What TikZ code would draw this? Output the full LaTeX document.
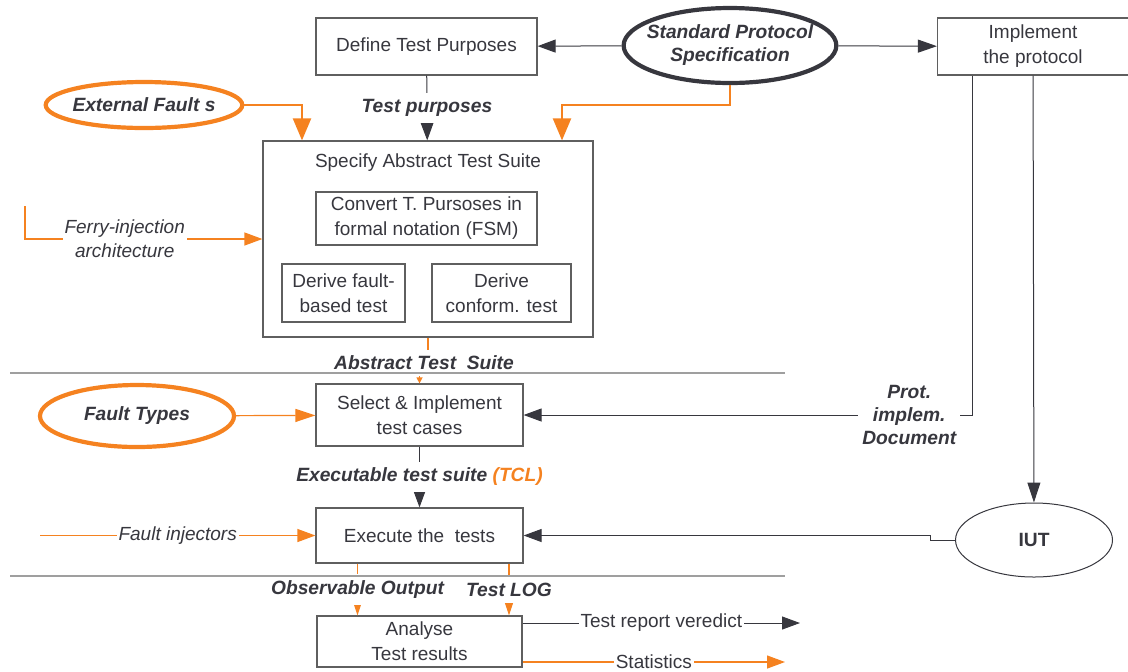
\documentclass[tikz,border=0pt]{standalone}
\usepackage{fontspec}
\setmainfont{Liberation Sans}
\usepackage{tikz}
\usetikzlibrary{positioning,shapes,arrows.meta}
\definecolor{testorange}{RGB}{245,130,32}
\definecolor{testdark}{RGB}{55,55,62}
\definecolor{testgray}{RGB}{95,95,95}
\tikzstyle{block}=[rectangle, draw=testgray, line width=0.6pt, text=testdark, align=center,
inner sep=0pt, font=\fontsize{9.5}{12.5}\selectfont]
\tikzstyle{source}=[ellipse, line width=2.1pt, text=testdark, align=center, inner sep=0pt,
font=\fontsize{9.6}{11.5}\selectfont\bfseries\itshape]
\tikzstyle{flow}=[fill=white, text=testdark, align=center, inner xsep=2pt, inner ysep=3.2pt,
font=\fontsize{9.6}{11.5}\selectfont\bfseries\itshape]
\tikzstyle{note}=[fill=white, text=testdark, align=center, inner xsep=1pt, inner ysep=2pt,
font=\fontsize{9.5}{12}\selectfont\itshape]
\tikzstyle{plain}=[fill=white, text=testdark, inner xsep=1pt, inner ysep=2pt,
font=\fontsize{9.5}{12}\selectfont]
\tikzstyle{dline}=[draw=testdark, line width=0.5pt]
\tikzstyle{oline}=[draw=testorange, line width=0.6pt]
\tikzstyle{separator}=[draw=gray!75, line width=0.7pt]

\begin{document}
\begin{tikzpicture}[x=0.5pt, y=-0.5pt]
            \useasboundingbox (0,0) rectangle (1128,671);

            % process boxes
            \node (1)[block, minimum width=110.5pt, minimum height=28.5pt] at (426.5,46.5) {Define Test Purposes};
            \node (3)[block, minimum width=95.5pt, minimum height=28.5pt] at (1033,46.5) {Implement\\the protocol};
            \node (4)[block, minimum width=165pt, minimum height=98pt] at (428,239) {};
            \node (4a)[block, draw=none] at (428,163) {Specify Abstract Test Suite};
            \node (5)[block, minimum width=110.5pt, minimum height=26.5pt] at (426.5,218.5) {Convert T. Pursoses in\\formal notation (FSM)};
            \node (6)[block, minimum width=61.5pt, minimum height=29pt] at (343.5,293) {Derive fault-\\based test};
            \node (7)[block, minimum width=69.5pt, minimum height=29pt] at (501.5,293) {Derive\\conform. test};
            \node (10)[block, minimum width=103.5pt, minimum height=31pt] at (419.5,415) {Select \& Implement\\test cases};
            \node (11)[block, minimum width=103.5pt, minimum height=27.5pt] at (419.5,535.5) {Execute the\ \ tests};
            \node (12)[block, minimum width=102.5pt, minimum height=25.5pt] at (419.5,641.5) {Analyse\\Test results};

            % inputs
            \node (2)[source, draw=testdark, inner sep=-4pt, minimum width=105.5pt, minimum height=37.5pt] at (730,45.5) {Standard Protocol\\Specification};
            \node (8)[source, draw=testorange, inner sep=-1pt, minimum width=97.5pt, minimum height=23pt] at (144,105) {External Fault s};
            \node (9)[source, draw=testorange, minimum width=97pt, minimum height=31pt] at (137,416) {Fault Types};
            \node (13)[source, draw=testdark, line width=0.5pt, font=\fontsize{9.6}{11.5}\selectfont\bfseries,
                minimum width=78.5pt, minimum height=37pt] at (1034,540) {IUT};

            \coordinate (fe) at (25,206);
            \coordinate (fi) at (40,535.5);
            \coordinate (m1) at (424,363);
            \coordinate (tr) at (800,623);
            \coordinate (st) at (785,662);

            % connectors
            \draw[dline, -{Triangle[length=9pt,width=6.5pt]}] (2) -- (1);
            \draw[dline, -{Triangle[length=9.5pt,width=6.5pt]}] (2) -- (3);
            \draw[dline, -{Triangle[length=9pt,width=6.5pt]}] (1) -- node[flow]{Test purposes} (4);
            \draw[oline, line width=1.1pt, -{Triangle[length=11pt,width=9pt]}] (8) -| ([xshift=-63pt]4.north);
            \draw[oline, line width=1.1pt, -{Triangle[length=11pt,width=9pt]}] (2.south) -- ++(0,20) -| ([xshift=67pt]4.north);
            \draw[oline, -{Triangle[length=9pt,width=6.5pt]}] (fe) |- node[note, pos=0.71]{Ferry-injection\\architecture} (4);
            \draw[oline, -{Triangle[length=3pt,width=3pt]}] (4.south) |- (m1) -| (10.north);
            \node (ats)[flow] at (m1) {Abstract Test\ \ Suite};
            \draw[oline, -{Triangle[length=10pt,width=6.5pt]}] (9) -- (10);
            \draw[dline, -{Triangle[length=9pt,width=6.5pt]}] (10) -- node[flow]{Executable test suite \textcolor{testorange}{(TCL)}} (11);
            \draw[oline, -{Triangle[length=9pt,width=6.5pt]}] (fi) -- node[note]{Fault injectors} (11);
            \draw[dline, -{Triangle[length=9pt,width=6.5pt]}] ([xshift=-30.5pt]3.south) |- node[flow, pos=0.57]{Prot.\\implem.\\Document} (10.east);
            \draw[dline, -{Triangle[length=10pt,width=6.5pt]}] (3) -- (13);
            \draw[dline, -{Triangle[length=9pt,width=6.5pt]}] (13.west) -- ++(-25,0) |- (11.east);
            \draw[oline, -{Triangle[length=7pt,width=4.5pt]}] ([xshift=-31pt]11.south) -- node[flow]{Observable Output} ([xshift=-31pt]12.north);
            \draw[oline, -{Triangle[length=7pt,width=4.5pt]}] ([xshift=44.75pt]11.south) -- node[flow]{Test LOG} ([xshift=44.75pt]12.north);
            \draw[dline, -{Triangle[length=9pt,width=6.5pt]}] (12.east |- tr) -- node[plain]{Test report veredict} (tr);
            \draw[oline, -{Triangle[length=9pt,width=6.5pt]}] (12.east |- st) -- node[plain]{Statistics} (st);

            % phase separators
            \draw[separator] (10,373) -- (785,373);
            \draw[separator] (10,576) -- (785,576);
        \end{tikzpicture}
\end{document}
